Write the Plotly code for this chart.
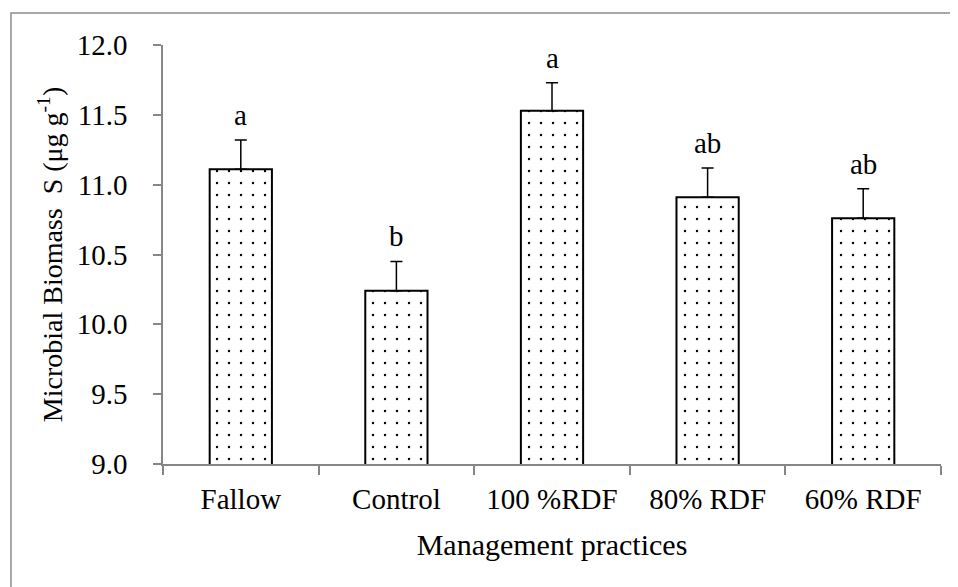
import plotly.graph_objects as go

categories = ["Fallow", "Control", "100 %RDF", "80% RDF", "60% RDF"]
values = [11.11, 10.24, 11.53, 10.91, 10.76]
errors = [0.21, 0.21, 0.20, 0.21, 0.21]
letters = ["a", "b", "a", "ab", "ab"]
y_ticks = [9.0, 9.5, 10.0, 10.5, 11.0, 11.5, 12.0]

FONT = "Liberation Serif"

fig = go.Figure()
fig.add_trace(go.Bar(
    x=categories, y=values, width=0.4,
    marker=dict(color="white",
                line=dict(color="black", width=2),
                pattern=dict(shape=".", size=12, solidity=0.03,
                             fgcolor="black", bgcolor="white", fillmode="replace")),
    error_y=dict(type="data", array=errors, arrayminus=[0] * len(errors),
                 symmetric=False, color="black", thickness=1.5, width=6),
))

for c, v, e, t in zip(categories, values, errors, letters):
    fig.add_annotation(x=c, y=v + e, text=t, showarrow=False, yanchor="bottom",
                       yshift=7, font=dict(family=FONT, size=29, color="black"))

fig.add_shape(type="rect", xref="paper", yref="paper",
              x0=-0.1954, x1=1.1, y0=-0.5, y1=1.0764,
              line=dict(color="#8c8c8c", width=1.5), fillcolor="rgba(0,0,0,0)")

# page body has an 8px margin, so the figure is shifted; compensate
fig.update_layout(
    width=950, height=579,
    margin=dict(l=155, r=17, t=37, b=123),
    paper_bgcolor="white", plot_bgcolor="white",
    showlegend=False,
    font=dict(family=FONT, size=29, color="black"),
    bargap=0.6,
)
fig.update_xaxes(
    type="category", range=[-0.5, 4.5], tickson="boundaries",
    showline=True, linecolor="#868686", linewidth=1.5,
    ticks="outside", ticklen=9, tickcolor="#868686", tickwidth=1.5,
    showgrid=False, zeroline=False, ticklabelstandoff=8,
    tickfont=dict(family=FONT, size=29, color="black"),
    title=dict(text="Management practices", standoff=20,
               font=dict(family=FONT, size=30, color="black")),
)
fig.update_yaxes(
    range=[9.0, 12.0], tickvals=y_ticks, tickformat=".1f",
    showline=True, linecolor="#868686", linewidth=1.5,
    ticks="outside", ticklen=8, tickcolor="#868686", tickwidth=1.5,
    showgrid=False, zeroline=False, ticklabelstandoff=20,
    tickfont=dict(family=FONT, size=29, color="black"),
    title=dict(text="Microbial Biomass  S (μg g<sup>-1</sup>)", standoff=6,
               font=dict(family=FONT, size=28, color="black")),
)

fig.write_html("out.html")
